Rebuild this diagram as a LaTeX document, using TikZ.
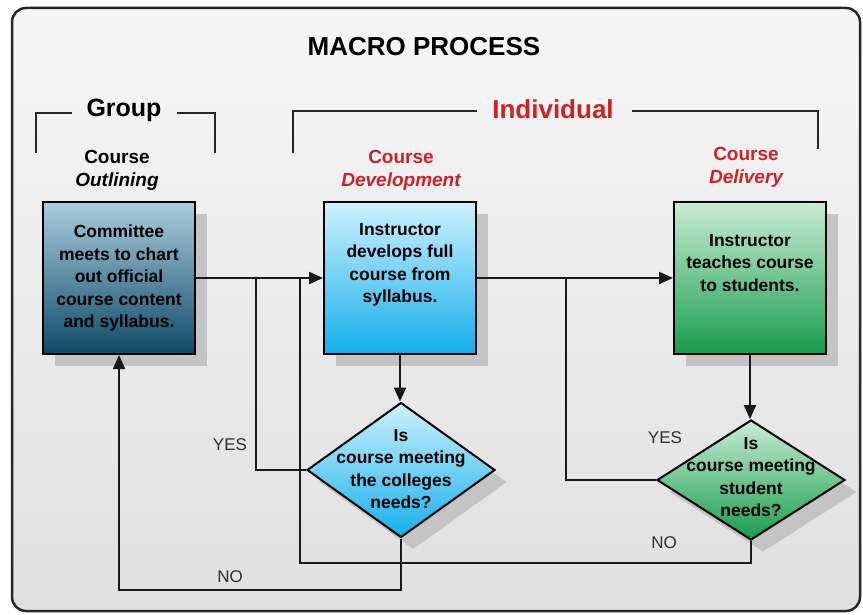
\documentclass[tikz,border=0pt]{standalone}
\usepackage{fontspec}
\setmainfont{Liberation Sans}
\usetikzlibrary{shapes.geometric,shadows,arrows.meta}

% palette
\definecolor{headred}{RGB}{208,32,40}
\definecolor{labelgray}{RGB}{48,48,48}
\definecolor{frametop}{RGB}{246,246,246}
\definecolor{framebot}{RGB}{224,224,224}
\definecolor{shadowgray}{RGB}{196,196,196}
\definecolor{tealtop}{RGB}{172,204,220}
\definecolor{tealmid}{RGB}{92,150,178}
\definecolor{tealbot}{RGB}{14,74,104}
\definecolor{cyantop}{RGB}{206,241,252}
\definecolor{cyanmid}{RGB}{110,210,245}
\definecolor{cyanbot}{RGB}{20,175,235}
\definecolor{greentop}{RGB}{200,236,212}
\definecolor{greenmid}{RGB}{100,196,132}
\definecolor{greenbot}{RGB}{24,156,76}

\tikzset{
  boxshadow/.style={drop shadow={shadow xshift=12pt, shadow yshift=-12pt, fill=shadowgray, opacity=1}},
  proc/.style={rectangle, draw=black, line width=2pt, minimum width=152pt, minimum height=152pt,
    inner sep=0pt, align=center, boxshadow,
    font=\fontsize{17.5}{22.5}\selectfont\bfseries},
  decision/.style={diamond, draw=black, line width=2pt, minimum width=188pt,
    inner sep=0pt, boxshadow},
  dtext/.style={align=center, inner sep=0pt, font=\fontsize{17.5}{22.5}\selectfont\bfseries},
  arr/.style={line width=2.2pt, draw=black!90, -{Triangle[length=14pt,width=12pt]}},
  link/.style={line width=2.2pt, draw=black!90},
  bracket/.style={line width=2pt, draw=black!85},
  heading/.style={anchor=base, inner sep=0pt, font=\fontsize{26}{30}\selectfont\bfseries},
  stage/.style={anchor=base, inner sep=0pt, font=\fontsize{19}{23}\selectfont\bfseries},
  answer/.style={anchor=base, inner sep=0pt, text=labelgray, font=\fontsize{17}{20}\selectfont},
}

\begin{document}
\begin{tikzpicture}[x=1pt,y=-1pt]
\useasboundingbox (0,0) rectangle (863,615);

% outer frame
\draw[line width=2.5pt, draw=black!85, rounded corners=14pt, top color=frametop, bottom color=framebot]
  (12,8) rectangle (860,611);

% titles and brackets
\node[heading] (title) at (424,56) {MACRO PROCESS};
\node[heading, font=\fontsize{25}{30}\selectfont\bfseries] (grp) at (124,117) {Group};
\node[heading, text=headred] (ind) at (553,119) {Individual};
\draw[bracket] (36,153) -- (36,113) -- (72,113);
\draw[bracket] (177,113) -- (215,113) -- (215,153);
\draw[bracket] (293,153) -- (293,111) -- (477,111);
\draw[bracket] (632,111) -- (818,111) -- (818,149);

\node[stage] (s1a) at (117,164) {Course};
\node[stage] (s1b) at (117,187) {\itshape Outlining};
\node[stage, text=headred] (s2a) at (401,164) {Course};
\node[stage, text=headred] (s2b) at (401,187) {\itshape Development};
\node[stage, text=headred] (s3a) at (746,161) {Course};
\node[stage, text=headred] (s3b) at (746,184) {\itshape Delivery};

% process boxes
\node[proc, top color=tealtop, middle color=tealmid, bottom color=tealbot] (b1) at (119,278)
  {Committee\\meets to chart\\out official\\course content\\and syllabus.};
\node[proc, top color=cyantop, middle color=cyanmid, bottom color=cyanbot] (b2) at (400,278)
  {Instructor\\develops full\\course from\\syllabus.\\[8pt]};
\node[proc, top color=greentop, middle color=greenmid, bottom color=greenbot] (b3) at (750,278)
  {Instructor\\teaches course\\to students.\\[8pt]};

% decisions
\node[decision, minimum height=135pt, top color=cyantop, middle color=cyanmid, bottom color=cyanbot] (d1) at (401,470) {};
\node[dtext] (d1t) at (401,469) {Is\\course meeting\\the colleges\\needs?};
\node[decision, minimum height=120pt, top color=greentop, middle color=greenmid, bottom color=greenbot] (d2) at (751,480) {};
\node[dtext] (d2t) at (751,477) {Is\\course meeting\\student\\needs?};

% junctions on the main line and turning points of the loops
\coordinate (j1) at (256,278);
\coordinate (j2) at (300,278);
\coordinate (j3) at (566,278);
\coordinate (n1) at (119,590);
\coordinate (n2) at (300,563);

% connectors
\draw[arr] (b1) -- (b2);
\draw[arr] (b2) -- (b3);
\draw[arr] (b2.south) -- (b2.south |- d1.north);
\draw[arr] (b3.south) -- (b3.south |- d2.north);
\draw[link] (d1.west) -| (j1);
\draw[link] (d2.west) -| (j3);
\draw[link] (d2.south) |- (n2) -- (j2);
\draw[arr] (d1.south) |- (n1) -- (b1.south);

% answers
\node[answer] (y1) at (230,450) {YES};
\node[answer] (no1) at (230,582) {NO};
\node[answer] (y2) at (665,443) {YES};
\node[answer] (no2) at (664,548) {NO};
\end{tikzpicture}
\end{document}
